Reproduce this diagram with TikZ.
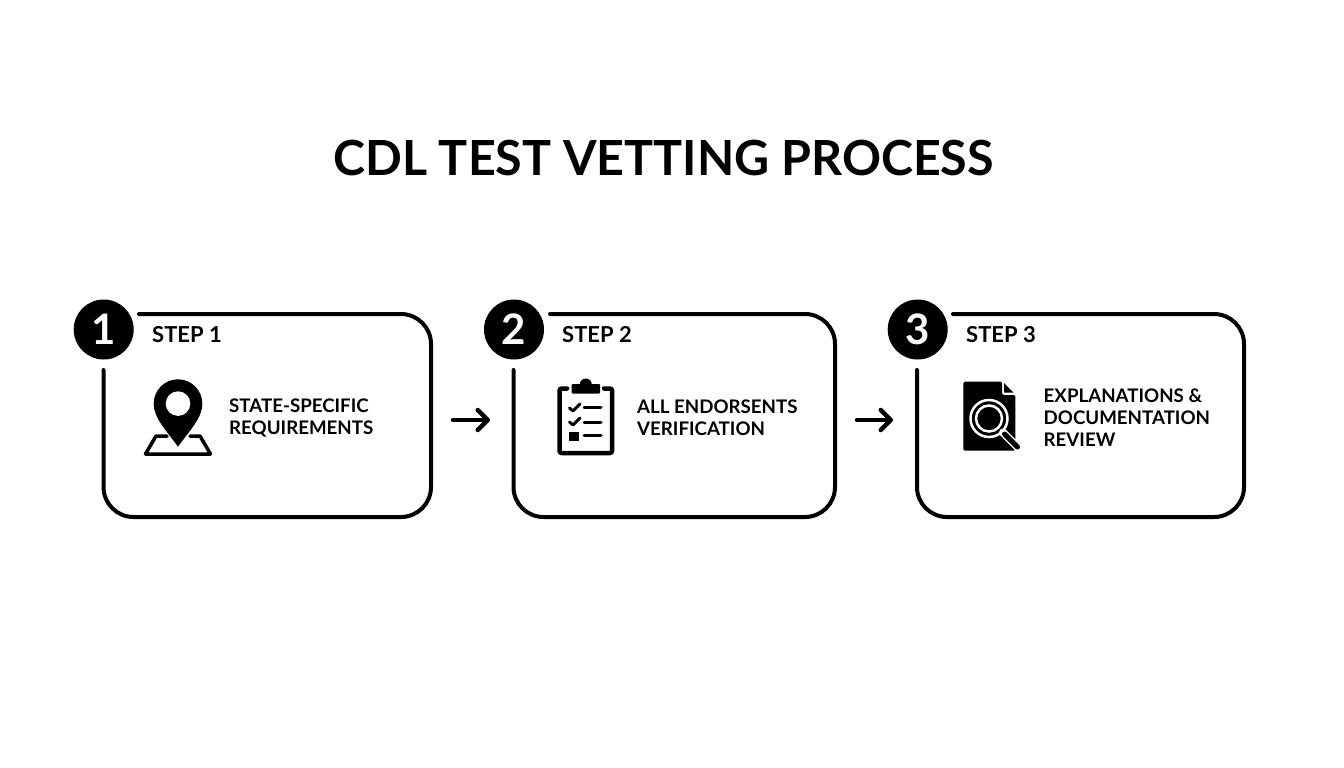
\documentclass[tikz,border=0pt]{standalone}
\usepackage{fontspec}
\setmainfont{Lato}
\usetikzlibrary{arrows.meta}
\begin{document}
\begin{tikzpicture}[
    x=1pt, y=-1pt,
    heading/.style={inner sep=0pt, font=\fontsize{48.4}{52}\selectfont\bfseries},
    stepnum/.style={circle, fill=black, text=white, minimum size=60pt, inner sep=0pt, font=\fontsize{42}{44}\selectfont\bfseries},
    steptitle/.style={anchor=west, inner sep=0pt, font=\fontsize{22}{24}\selectfont\bfseries},
    item/.style={anchor=west, align=left, inner sep=0pt, font=\fontsize{18.7}{22}\selectfont\bfseries},
    frame/.style={line width=4pt, line cap=round, rounded corners=30pt},
    arrow/.style={-{Straight Barb[round, length=10pt, width=20pt]}, line width=4.5pt, line cap=round},
    icon/.style={line width=3.5pt, line join=round, line cap=round}
]
\useasboundingbox (0,0) rectangle (1344,768);

\node[heading] (title) at (663.5,158) {CDL TEST VETTING PROCESS};

\draw[frame] (139,314) -- (431,314) -- (431,517) -- (103.5,517) -- (103.5,370);
\draw[frame] (550,314) -- (835,314) -- (835,517) -- (513.5,517) -- (513.5,370);
\draw[frame] (953,314) -- (1244,314) -- (1244,517) -- (917,517) -- (917,370);

\node[stepnum] (num1) at (103.7,329.5) {1};
\node[stepnum] (num2) at (514,329.5) {2};
\node[stepnum] (num3) at (917.7,329.5) {3};

\node[steptitle] (head1) at (152,335) {STEP 1};
\node[steptitle] (head2) at (562,335) {STEP 2};
\node[steptitle] (head3) at (966,335) {STEP 3};

\node[item] (label1) at (229,418) {STATE-SPECIFIC\\REQUIREMENTS};
\node[item] (label2) at (637,418) {ALL ENDORSENTS\\VERIFICATION};
\node[item] (label3) at (1043.5,418) {EXPLANATIONS \&\\DOCUMENTATION\\REVIEW};

\coordinate (from1) at (453,420);
\coordinate (to1) at (490,420);
\coordinate (from2) at (857,420);
\coordinate (to2) at (893,420);
\draw[arrow] (from1) -- (to1);
\draw[arrow] (from2) -- (to2);

\fill (153.7,403.6) arc[start angle=180, end angle=360, radius=24.3]
    .. controls (202.3,418) and (190,430) .. (178,446.7)
    .. controls (166,430) and (153.7,418) .. cycle;
\fill[white] (178,403.6) circle (12.3);
\draw[icon] (167,436) -- (156,436) -- (145.5,454) -- (210.5,454) -- (200,436) -- (190,436);

\draw[icon, line width=4.5pt, rounded corners=2pt] (567,388.5) -- (559.5,388.5) -- (559.5,453) -- (612,453) -- (612,388.5) -- (604,388.5);
\fill[rounded corners=1pt] (571.7,384) rectangle (600,393.5);
\fill (585.8,384.5) circle (6);
\draw[icon, line width=3pt] (569.5,408) -- (573,411) -- (580,404);
\draw[icon, line width=3pt] (569.5,422) -- (573,425) -- (580,418);
\fill (568.7,431.7) rectangle (578.7,441);
\draw[icon, line width=3pt] (584,407.7) -- (601,407.7);
\draw[icon, line width=3pt] (584,422.3) -- (601,422.3);
\draw[icon, line width=3pt] (584,435.7) -- (601,435.7);

\fill[rounded corners=1.5pt] (963.3,381.7) -- (1002,381.7) -- (1002,395) -- (1015.3,395) -- (1015.3,450.7) -- (963.3,450.7) -- cycle;
\fill (1004,383) -- (1013.5,392.7) -- (1004,392.7) -- cycle;
\draw[white, line width=2.5pt] (989,418.5) circle (18.5);
\draw[white, line width=2.5pt] (989,418.5) circle (13);
\draw[white, line width=8pt, line cap=round] (1003,432.5) -- (1018,447.5);
\draw[line width=5pt, line cap=round] (1004.5,434) -- (1017.5,447);
\end{tikzpicture}
\end{document}
